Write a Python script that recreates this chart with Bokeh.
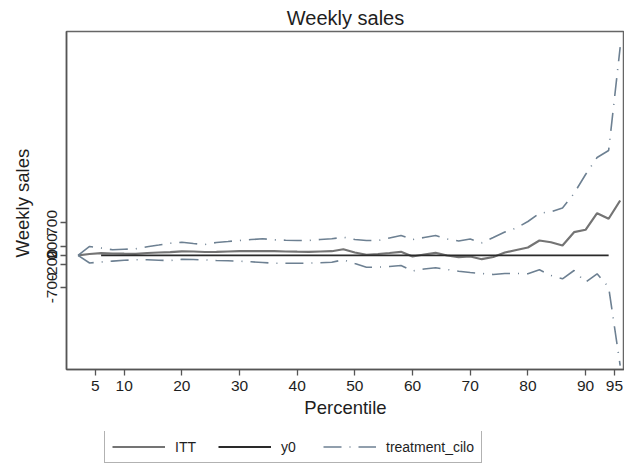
from bokeh.plotting import figure
from bokeh.models import Range1d, FixedTicker, Legend, LegendItem, ColumnDataSource
from bokeh.layouts import column
from bokeh.embed import file_html
from bokeh.resources import INLINE

percentile = [2, 4, 6, 8, 10, 12, 14, 16, 18, 20, 22, 24, 26, 28, 30, 32, 34, 36, 38, 40,
              42, 44, 46, 48, 50, 52, 54, 56, 58, 60, 62, 64, 66, 68, 70, 72, 74, 76, 78, 80,
              82, 84, 86, 88, 90, 92, 94, 96]

itt = [0, 28, 45, 39, 35, 32, 50, 60, 67, 86, 82, 71, 75, 82, 88, 88, 88, 88, 82, 78,
       75, 82, 88, 131, 60, 11, 28, 50, 75, -26, 17, 54, -4, -41, -26, -84, -37, 60, 114, 168,
       319, 282, 211, 498, 550, 907, 787, 1181]

ci_hi = [0, 190, 157, 119, 131, 140, 185, 222, 261, 282, 254, 233, 276, 297, 319, 340, 356, 334, 325, 319,
         319, 340, 356, 390, 340, 319, 319, 373, 427, 340, 384, 427, 351, 308, 351, 269, 384, 502, 588, 728,
         907, 937, 1019, 1332, 1741, 2108, 2258, 4485]

ci_lo = [0, -166, -144, -125, -108, -97, -97, -106, -112, -86, -91, -99, -112, -119, -127, -140, -155, -170, -170, -170,
         -170, -159, -149, -97, -177, -256, -256, -241, -220, -338, -295, -269, -306, -343, -371, -392, -414, -392, -392, -399,
         -312, -435, -506, -328, -580, -399, -687, -2375]

y0_x = [6, 94]
y0_y = [0, 0]

x_ticks = [5, 10, 20, 30, 40, 50, 60, 70, 80, 90, 95]
y_ticks = [-700, -200, 0, 200, 700]
y_tick_labels = {-700: "-700", -200: "-200", 0: "0", 200: "200", 700: "700"}
legend_labels = ["ITT", "y0", "treatment_cilo"]

FONT = "Liberation Sans"
ITT_STYLE = dict(line_color="#747474", line_width=2.2)
Y0_STYLE = dict(line_color="#2a2a2a", line_width=1.8)
CI_STYLE = dict(line_color="#6d8092", line_width=1.6, line_dash="18 8 1 8")

p = figure(width=624, height=431,
           output_backend="svg", toolbar_location=None,
           x_range=Range1d(0, 96.75), y_range=Range1d(-2461, 4823),
           min_border_left=66, min_border_right=0, min_border_top=31, min_border_bottom=62,
           title="Weekly sales")
p.title.align = "center"
p.title.text_font = FONT
p.title.text_font_size = "20px"
p.title.text_font_style = "normal"
p.title.text_color = "#1e1e1e"
p.title.standoff = 6

p.outline_line_color = "#666666"
p.outline_line_width = 1.5
p.xgrid.visible = False
p.ygrid.visible = False
p.background_fill_color = "white"
p.border_fill_color = "white"

src = ColumnDataSource(dict(x=percentile, itt=itt, hi=ci_hi, lo=ci_lo))
y0_src = ColumnDataSource(dict(x=y0_x, y=y0_y))
p.line("x", "itt", source=src, **ITT_STYLE)
p.line("x", "y", source=y0_src, **Y0_STYLE)
p.line("x", "hi", source=src, **CI_STYLE)
p.line("x", "lo", source=src, **CI_STYLE)

for ax in (p.xaxis[0], p.yaxis[0]):
    ax.axis_line_color = "#555555"
    ax.axis_line_width = 1.5
    ax.major_tick_line_color = "#555555"
    ax.major_tick_line_width = 1.3
    ax.major_tick_out = 6
    ax.major_tick_in = 0
    ax.minor_tick_out = 0
    ax.minor_tick_in = 0
    ax.major_label_text_font = FONT
    ax.major_label_text_font_size = "15.5px"
    ax.major_label_text_color = "#1e1e1e"
    ax.axis_label_text_font = FONT
    ax.axis_label_text_font_size = "18.5px"
    ax.axis_label_text_font_style = "normal"
    ax.axis_label_text_color = "#1e1e1e"

p.xaxis[0].ticker = FixedTicker(ticks=x_ticks)
p.xaxis[0].axis_label = "Percentile"
p.xaxis[0].major_label_standoff = 5
p.xaxis[0].axis_label_standoff = 3

p.yaxis[0].ticker = FixedTicker(ticks=y_ticks)
p.yaxis[0].major_label_overrides = y_tick_labels
p.yaxis[0].axis_label = "Weekly  sales"
p.yaxis[0].major_label_orientation = "vertical"
p.yaxis[0].major_label_standoff = 3
p.yaxis[0].axis_label_standoff = 12

# legend strip below the chart (its renderers use the same data, kept out of view)
lf = figure(width=624, height=33, output_backend="svg", toolbar_location=None,
            x_range=Range1d(1000, 1001), y_range=Range1d(0, 1),
            x_axis_type=None, y_axis_type=None,
            min_border_left=0, min_border_right=0, min_border_top=0, min_border_bottom=0)
lf.outline_line_color = None
lf.xgrid.visible = False
lf.ygrid.visible = False
lf.background_fill_color = "white"
lf.border_fill_color = "white"
l1 = lf.line("x", "itt", source=src, **ITT_STYLE)
l2 = lf.line("x", "y", source=y0_src, **Y0_STYLE)
l3 = lf.line("x", "hi", source=src, **CI_STYLE)

legend = Legend(items=[LegendItem(label=legend_labels[0], renderers=[l1]),
                       LegendItem(label=legend_labels[1], renderers=[l2]),
                       LegendItem(label=legend_labels[2], renderers=[l3])],
                orientation="horizontal", location=(38, 1),
                label_text_font=FONT, label_text_font_size="14px", label_text_color="#1e1e1e",
                glyph_width=53, glyph_height=17, label_standoff=10, spacing=22,
                padding=7, margin=0, border_line_color="#666666", border_line_width=1.2,
                background_fill_color="white")
lf.add_layout(legend, "center")

layout = column(p, lf, spacing=0)
open("out.html", "w").write(file_html(layout, INLINE))
